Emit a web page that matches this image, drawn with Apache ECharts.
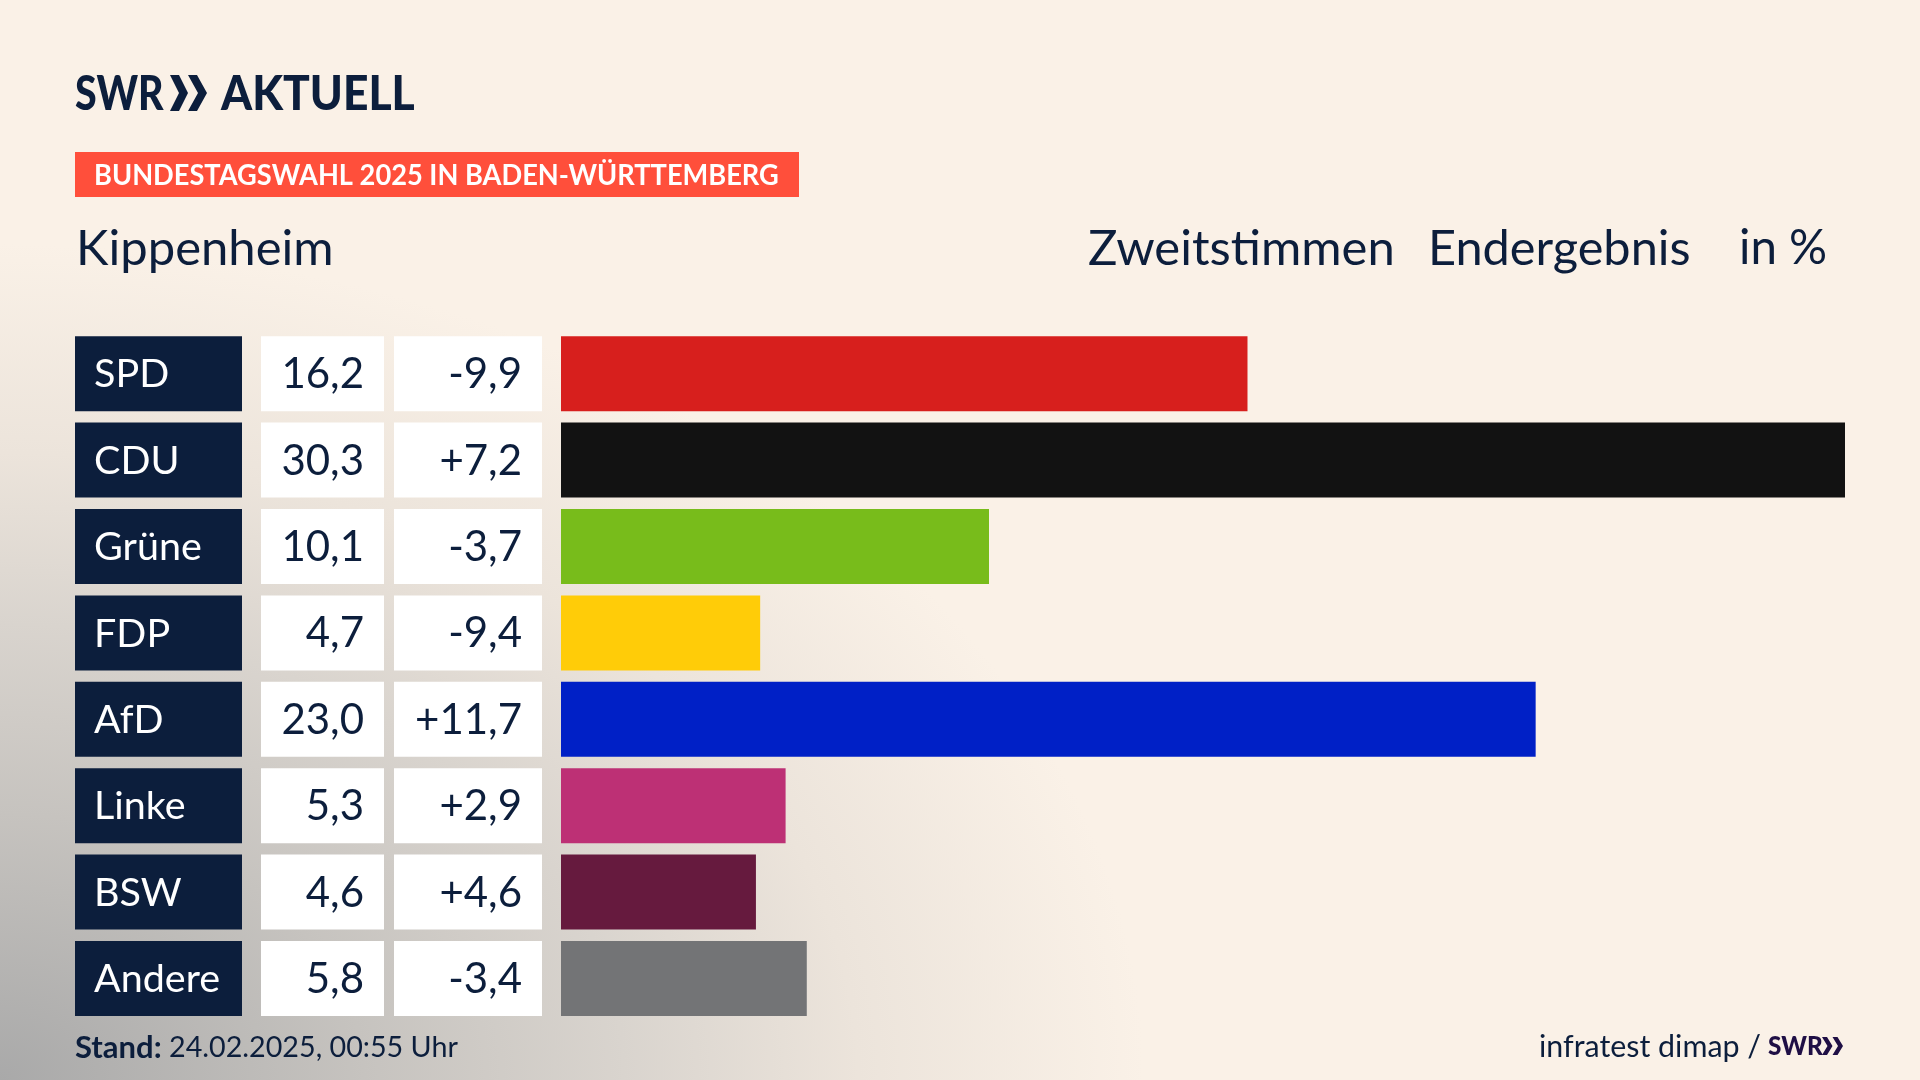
<!DOCTYPE html>
<html>
<head>
<meta charset="utf-8">
<title>Kippenheim</title>
<script src="https://cdn.jsdelivr.net/npm/echarts@6/dist/echarts.min.js"></script>
<style>
  html, body { margin: 0; padding: 0; width: 1920px; height: 1080px; overflow: hidden; }
  body { background: #faf1e7 radial-gradient(ellipse 1300px 950px at 0% 100%, #a9a9a9 0%, #c6c3bf 28%, #d9d4ce 48%, #ece4db 66%, #faf1e7 88%) no-repeat; }
  #chart { width: 1920px; height: 1080px; }
</style>
</head>
<body>
<div id="chart"></div>
<script>
// daten
var parties = ['SPD', 'CDU', 'Grüne', 'FDP', 'AfD', 'Linke', 'BSW', 'Andere'];
var shares = [16.2, 30.3, 10.1, 4.7, 23.0, 5.3, 4.6, 5.8];
var changes = [-9.9, 7.2, -3.7, -9.4, 11.7, 2.9, 4.6, -3.4];
var colors = ['#d71f1d', '#121212', '#78bc1b', '#ffcc08', '#0020c6', '#bd3075', '#661a3e', '#737476'];

var navy = '#0c1e3c';
var font = 'Lato';

function de(v) {
  return v.toFixed(1).replace('.', ',');
}
function signed(v) {
  return (v > 0 ? '+' : '') + de(v);
}

// jede Spalte ist ein eigenes grid mit gleicher Zeilenhoehe
var rowTop = 330.5, rowStep = 86.4;
var columns = [
  { left: 75, width: 167 },
  { left: 261, width: 123 },
  { left: 394, width: 148 },
  { left: 561, width: 1284 }
];

var grids = columns.map(function (c) {
  return { left: c.left, width: c.width, top: rowTop, height: rowStep * parties.length };
});
var xAxes = columns.map(function (c, i) {
  return { type: 'value', gridIndex: i, min: 0, max: i == 3 ? 30.3 : 1, show: false };
});
var yAxes = columns.map(function (c, i) {
  return { type: 'category', gridIndex: i, data: parties, inverse: true, show: false };
});

// Tabellenzelle: Balken ueber die volle Spaltenbreite mit Text
function cellSeries(i, fill, texts, pos, textColor, dist, size) {
  return {
    type: 'bar',
    xAxisIndex: i,
    yAxisIndex: i,
    barWidth: 75,
    silent: true,
    itemStyle: { color: fill },
    label: {
      show: true,
      position: pos,
      distance: dist,
      offset: [0, 1],
      color: textColor,
      fontFamily: font,
      fontSize: size,
      formatter: function (p) { return texts[p.dataIndex]; }
    },
    data: parties.map(function () { return 1; })
  };
}

var series = [
  cellSeries(0, navy, parties, 'insideLeft', '#ffffff', 19, 39.5),
  cellSeries(1, '#ffffff', shares.map(de), 'insideRight', navy, 20, 42),
  cellSeries(2, '#ffffff', changes.map(signed), 'insideRight', navy, 20, 42),
  {
    type: 'bar',
    xAxisIndex: 3,
    yAxisIndex: 3,
    barWidth: 75,
    silent: true,
    data: shares.map(function (v, i) {
      return { value: v, itemStyle: { color: colors[i] } };
    })
  }
];

function txt(x, y, text, size, opts) {
  opts = opts || {};
  return {
    type: 'text',
    x: x,
    y: y,
    scaleX: opts.scaleX || 1,
    style: {
      text: text,
      fill: opts.fill || navy,
      font: (opts.weight ? opts.weight + ' ' : '') + size + 'px ' + font,
      textAlign: opts.align || 'left',
      textVerticalAlign: 'middle'
    }
  };
}

// die zwei Winkel vom SWR Logo
function chevron(x, y, w, h, t, fill) {
  return {
    type: 'polygon',
    shape: { points: [[x, y], [x + t, y], [x + w, y + h / 2], [x + t, y + h], [x, y + h], [x + w - t, y + h / 2]] },
    style: { fill: fill }
  };
}

var purple = '#1f0f45';
var graphics = [
  txt(75, 95, 'SWR', 48, { weight: 900, scaleX: 0.82 }),
  chevron(170, 75, 18, 36, 9, navy),
  chevron(188, 75, 19, 36, 9, navy),
  txt(221, 95, 'AKTUELL', 48, { weight: 900, scaleX: 0.925 }),
  { type: 'rect', shape: { x: 75, y: 152, width: 724, height: 45 }, style: { fill: '#ff4f3b' } },
  txt(94, 176, 'BUNDESTAGSWAHL 2025 IN BADEN-WÜRTTEMBERG', 28, { weight: 'bold', fill: '#ffffff', scaleX: 0.972 }),
  txt(76, 249, 'Kippenheim', 49),
  txt(1088, 249, 'Zweitstimmen', 49),
  txt(1428, 249, 'Endergebnis', 48.7),
  txt(1739, 249, 'in %', 47.5),
  txt(75, 1048, 'Stand:', 31, { weight: 'bold' }),
  txt(169, 1048, '24.02.2025, 00:55 Uhr', 28.7),
  txt(1539, 1047, 'infratest dimap /', 30.4),
  txt(1768, 1046, 'SWR', 27, { weight: 900, fill: purple, scaleX: 0.9 }),
  chevron(1822, 1037, 10.5, 18, 5, purple),
  chevron(1832.5, 1037, 10.5, 18, 5, purple)
];

var chart = echarts.init(document.getElementById('chart'));
chart.setOption({
  animation: false,
  backgroundColor: 'transparent',
  grid: grids,
  xAxis: xAxes,
  yAxis: yAxes,
  series: series,
  graphic: graphics
});
</script>
</body>
</html>
